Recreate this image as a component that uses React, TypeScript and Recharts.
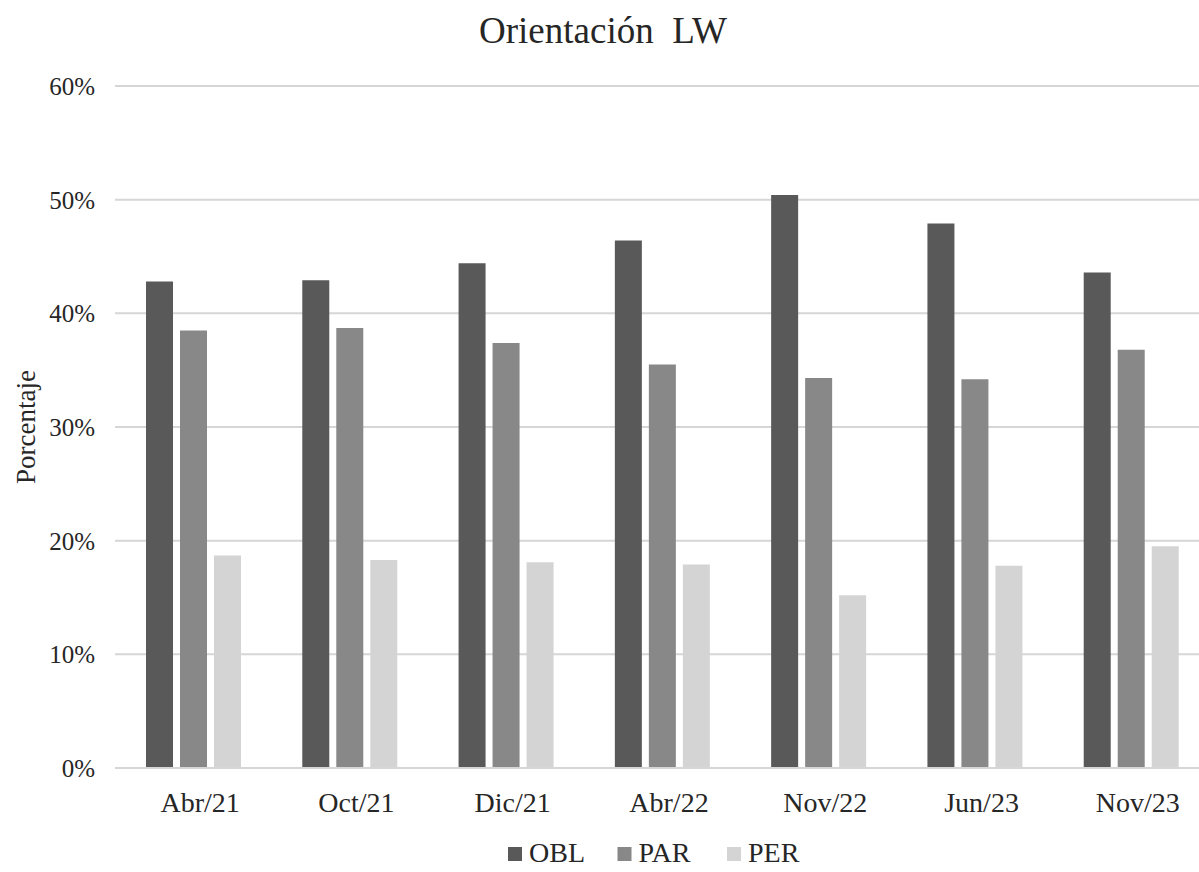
import { BarChart, Bar, XAxis, YAxis, CartesianGrid, Legend } from "recharts";

const periods = ["Abr/21", "Oct/21", "Dic/21", "Abr/22", "Nov/22", "Jun/23", "Nov/23"];
const obl = [42.8, 42.9, 44.4, 46.4, 50.4, 47.9, 43.6];
const par = [38.5, 38.7, 37.4, 35.5, 34.3, 34.2, 36.8];
const per = [18.7, 18.3, 18.1, 17.9, 15.2, 17.8, 19.5];
const yTicks = [0, 10, 20, 30, 40, 50, 60];

const data = periods.map((p, i) => ({ period: p, OBL: obl[i], PAR: par[i], PER: per[i] }));

const serif = "Liberation Serif, Times New Roman, serif";
const textColor = "#262626";
const gridColor = "#d6d6d6";

// legend drawn as svg so it uses the same font path as the axis text
const LegendContent = (props: any) => {
  const items = props.payload || [];
  return (
    <svg width={330} height={40} style={{ display: "block", overflow: "visible" }}>
      {items.map((it: any, i: number) => (
        <g key={it.value} transform={`translate(${i * 109.5}, 0)`}>
          <rect x={0} y={15} width={14} height={14} fill={it.color} />
          <text x={21} y={30} fontFamily={serif} fontSize={28} fill={textColor}>
            {it.value}
          </text>
        </g>
      ))}
    </svg>
  );
};

export default function App() {
  return (
    <div style={{ position: "fixed", top: 0, left: 0, width: 1199, height: 872, overflow: "hidden", background: "#fff" }}>
      <svg width={1199} height={70} style={{ position: "absolute", top: 0, left: 0 }}>
        <text x={603} y={43} textAnchor="middle" fontFamily={serif} fontSize={37} fill={textColor} style={{ whiteSpace: "pre" }}>
          Orientación  LW
        </text>
      </svg>
      <BarChart
        width={1215}
        height={872}
        data={data}
        margin={{ top: 86, right: 6, bottom: 0, left: 0 }}
        barSize={27}
        barGap={7}
      >
        <CartesianGrid vertical={false} stroke={gridColor} strokeWidth={2} />
        <XAxis
          dataKey="period"
          axisLine={{ stroke: gridColor, strokeWidth: 2 }}
          tickLine={false}
          tickSize={6}
          tickMargin={18}
          dx={7}
          height={104}
          tick={{ fontFamily: serif, fontSize: 28, fill: textColor }}
        />
        <YAxis
          width={115}
          domain={[0, 60]}
          ticks={yTicks}
          axisLine={false}
          tickLine={false}
          tickSize={6}
          tickMargin={14}
          tickFormatter={(v: number) => `${v}%`}
          tick={{ fontFamily: serif, fontSize: 25, fill: textColor }}
          label={{
            value: "Porcentaje",
            angle: -90,
            position: "insideLeft",
            offset: 25,
            style: { textAnchor: "middle", fontFamily: serif, fontSize: 27, fill: textColor },
          }}
        />
        <Legend
          layout="vertical"
          align="center"
          verticalAlign="middle"
          wrapperStyle={{ top: 832, left: 508, width: "auto" }}
          content={<LegendContent />}
        />
        <Bar dataKey="OBL" fill="#595959" isAnimationActive={false} />
        <Bar dataKey="PAR" fill="#888888" isAnimationActive={false} />
        <Bar dataKey="PER" fill="#d4d4d4" isAnimationActive={false} />
      </BarChart>
    </div>
  );
}
